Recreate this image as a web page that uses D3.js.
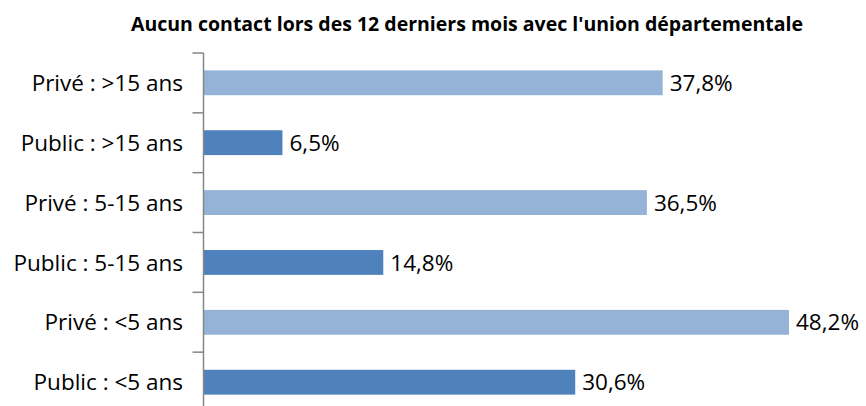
<!DOCTYPE html>
<html>
<head>
<meta charset="utf-8">
<script src="https://cdn.jsdelivr.net/npm/d3@7"></script>
<style>
  body { margin: 0; background: #fff; }
  text { font-family: "Open Sans", "Liberation Sans", sans-serif; }
</style>
</head>
<body>
<script>
var categories = ['Privé : >15 ans', 'Public : >15 ans', 'Privé : 5-15 ans', 'Public : 5-15 ans', 'Privé : <5 ans', 'Public : <5 ans'];
var values = [37.8, 6.5, 36.5, 14.8, 48.2, 30.6];
var sectors = ['Privé', 'Public', 'Privé', 'Public', 'Privé', 'Public'];
var title = "Aucun contact lors des 12 derniers mois avec l'union départementale";

var data = categories.map(function(c, i) {
    return { cat: c, value: values[i], sector: sectors[i] };
});

var svg = d3.select('body').append('svg').attr('width', 866).attr('height', 406);

var x = d3.scaleLinear().domain([0, 48.2]).range([203.5, 789]);
var y = d3.scaleBand().domain(categories).range([53, 412]).paddingInner(0.585).paddingOuter(0.29);
var color = d3.scaleOrdinal().domain(['Privé', 'Public']).range(['#95b3d7', '#4f81bd']);

svg.append('text')
    .attr('x', 467)
    .attr('y', 31)
    .attr('text-anchor', 'middle')
    .attr('font-size', '19.5px')
    .attr('font-weight', 'bold')
    .attr('fill', '#000')
    .text(title);

svg.selectAll('rect')
    .data(data)
    .enter()
    .append('rect')
    .attr('x', x(0))
    .attr('y', function(d) { return y(d.cat); })
    .attr('width', function(d) { return x(d.value) - x(0); })
    .attr('height', y.bandwidth())
    .attr('fill', function(d) { return color(d.sector); });

svg.selectAll('.val')
    .data(data)
    .enter()
    .append('text')
    .attr('class', 'val')
    .attr('x', function(d) { return x(d.value) + 7; })
    .attr('y', function(d) { return y(d.cat) + y.bandwidth() / 2; })
    .attr('dy', '0.36em')
    .attr('font-size', '22.5px')
    .attr('fill', '#000')
    .text(function(d) { return d3.format('.1f')(d.value).replace('.', ',') + '%'; });

// axe vertical avec graduations entre les catégories
var axisG = svg.append('g');
axisG.append('line')
    .attr('x1', x(0)).attr('x2', x(0))
    .attr('y1', 53).attr('y2', 412)
    .attr('stroke', '#868686').attr('stroke-width', 1.5);

var tickYs = d3.range(categories.length + 1).map(function(i) { return 53 + i * (359 / categories.length); });
axisG.selectAll('.tick')
    .data(tickYs)
    .enter()
    .append('line')
    .attr('x1', x(0) - 11).attr('x2', x(0))
    .attr('y1', function(d) { return d; }).attr('y2', function(d) { return d; })
    .attr('stroke', '#868686').attr('stroke-width', 1.5);

svg.selectAll('.cat')
    .data(data)
    .enter()
    .append('text')
    .attr('class', 'cat')
    .attr('x', 183)
    .attr('y', function(d) { return y(d.cat) + y.bandwidth() / 2; })
    .attr('dy', '0.36em')
    .attr('text-anchor', 'end')
    .attr('font-size', '22.5px')
    .attr('fill', '#000')
    .text(function(d) { return d.cat; });
</script>
</body>
</html>
